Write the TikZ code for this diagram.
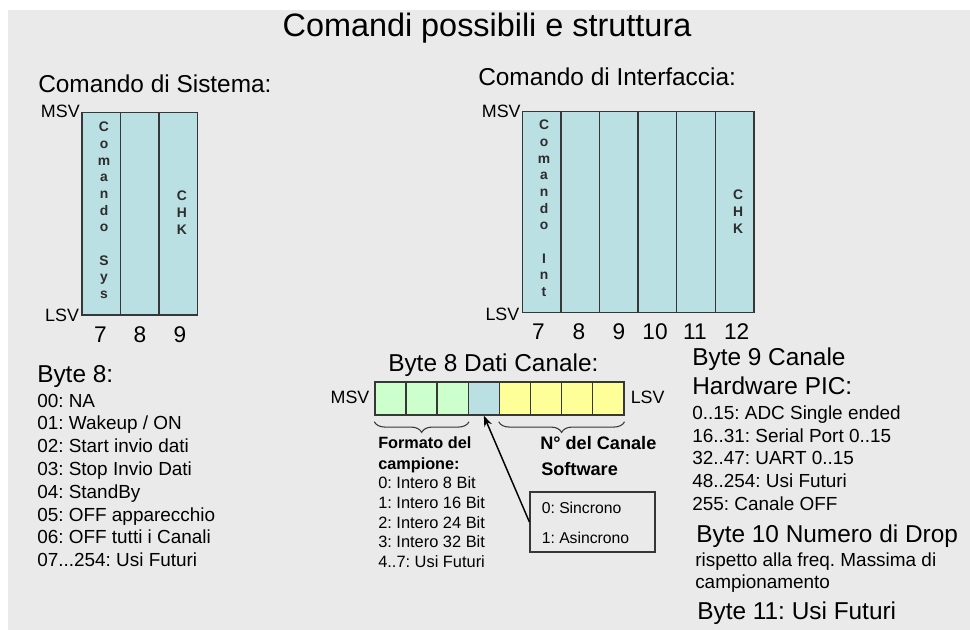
\documentclass[tikz,border=0pt]{standalone}
\usepackage{fontspec}
\setmainfont{Liberation Sans}
\usetikzlibrary{decorations.pathreplacing,arrows.meta}
\frenchspacing

\definecolor{bgpanel}{RGB}{234,234,234}
\definecolor{colcell}{RGB}{187,224,227}
\definecolor{bitgreen}{RGB}{204,255,204}
\definecolor{bityellow}{RGB}{255,255,153}
\definecolor{edgegray}{RGB}{55,55,55}

\tikzset{
  txt/.style={anchor=base west, inner sep=0pt, text=black},
  heading/.style={txt, font=\fontsize{18.3}{22}\selectfont},
  item/.style={txt, font=\fontsize{14.2}{17}\selectfont},
  smallitem/.style={txt, font=\fontsize{12.3}{15}\selectfont},
  boldlbl/.style={txt, font=\fontsize{12.2}{15}\selectfont\bfseries},
  sidelbl/.style={inner sep=0pt, font=\fontsize{13.4}{16}\selectfont},
  colnum/.style={anchor=base, inner sep=0pt, font=\fontsize{17}{20}\selectfont},
  colbox/.style={draw=edgegray, fill=colcell, line width=1.1pt, inner sep=0pt},
  bitcell/.style={draw=edgegray, line width=1.1pt, inner sep=0pt,
                  minimum width=23.3pt, minimum height=24.75pt},
  vletters/.style={anchor=north, inner sep=0pt, align=center, text=edgegray!80!black,
                   font=\fontsize{10.4}{12.5}\selectfont\bfseries},
  bracket/.style={decorate, draw=edgegray, line width=0.8pt,
                  decoration={brace, mirror, amplitude=8pt}},
}

\begin{document}
\begin{tikzpicture}[x=0.75pt,y=-0.75pt]
\useasboundingbox (0,0) rectangle (970,630);
\fill[bgpanel] (8,10) rectangle (970,630);

% title
\node[anchor=base, inner sep=0pt, font=\fontsize{24.3}{29}\selectfont] (title) at (487,37)
  {Comandi possibili e struttura};

% ---------- system command frame ----------
\node[heading] (syshead) at (38,93) {Comando di Sistema:};
\foreach \i in {0,1,2}
  \node[colbox, minimum width=28.875pt, minimum height=151.7pt] (sys\i)
    at ({82+38.5*(\i+0.5)},213.85) {};
\node[sidelbl, anchor=base east] (sysmsv) at ([xshift=-1pt,yshift=-4pt]sys0.north west) {MSV};
\node[sidelbl, anchor=base east] (syslsv) at ([xshift=-1.5pt,yshift=-4.5pt]sys0.south west) {LSV};
\node[vletters] (syscmd) at (104,122) {C\\o\\m\\a\\n\\d\\o\\[12.5pt]S\\y\\s};
\node[vletters] (syschk) at (182,191) {C\\H\\K};
\node[colnum] (sn7) at (100.5,343) {7};
\node[colnum] (sn8) at (140,343) {8};
\node[colnum] (sn9) at (180,343) {9};

% ---------- interface command frame ----------
\node[heading] (ifhead) at (478,86) {Comando di Interfaccia:};
\foreach \i in {0,1,2,3,4,5}
  \node[colbox, minimum width=28.95pt, minimum height=150.75pt] (ifc\i)
    at ({522.3+38.6*(\i+0.5)},212.2) {};
\node[sidelbl, anchor=base east] (ifmsv) at ([xshift=-0.5pt,yshift=-4.6pt]ifc0.north west) {MSV};
\node[sidelbl, anchor=base east] (iflsv) at ([xshift=-1.5pt,yshift=-5.4pt]ifc0.south west) {LSV};
\node[vletters] (ifcmd) at (544,120) {C\\o\\m\\a\\n\\d\\o\\[12.5pt]I\\n\\t};
\node[vletters] (ifchk) at (738,190) {C\\H\\K};
\node[colnum] (in7) at (538.3,340) {7};
\node[colnum] (in8) at (579,340) {8};
\node[colnum] (in9) at (619,340) {9};
\node[colnum] (in10) at (655,340) {10};
\node[colnum] (in11) at (695,340) {11};
\node[colnum] (in12) at (736.7,340) {12};

% ---------- byte 8 of the system command ----------
\node[heading] (b8head) at (37,383) {Byte 8:};
\node[item] (b8l0) at (37,407.0) {00: NA};
\node[item] (b8l1) at (37,429.8) {01: Wakeup / ON};
\node[item] (b8l2) at (37,452.6) {02: Start invio dati};
\node[item] (b8l3) at (37,475.4) {03: Stop Invio Dati};
\node[item] (b8l4) at (37,498.2) {04: StandBy};
\node[item] (b8l5) at (37,521.0) {05: OFF apparecchio};
\node[item] (b8l6) at (37,543.8) {06: OFF tutti i Canali};
\node[item] (b8l7) at (37,566.6) {07...254: Usi Futuri};

% ---------- byte 8 channel data ----------
\node[heading] (dchead) at (388,372) {Byte 8 Dati Canale:};
\foreach \i/\c in {0/bitgreen,1/bitgreen,2/bitgreen,3/colcell,
                   4/bityellow,5/bityellow,6/bityellow,7/bityellow}
  \node[bitcell, fill=\c] (bit\i) at ({375+31.1*(\i+0.5)},398.5) {};
\node[sidelbl, anchor=base east] (bitmsv) at ([xshift=-3.5pt,yshift=-4pt]bit0.west) {MSV};
\node[sidelbl, anchor=base west] (bitlsv) at ([xshift=4.5pt,yshift=-4pt]bit7.east) {LSV};

\draw[bracket] ([yshift=-4.5pt]bit0.south west) -- ([yshift=-4.5pt]bit2.south east);
\draw[bracket] ([yshift=-4.5pt]bit4.south west) -- ([yshift=-4.5pt]bit7.south east);

\node[boldlbl] (fmt1) at (378,448.3) {Formato del};
\node[boldlbl] (fmt2) at (378,469.5) {campione:};
\node[smallitem] (fmtl0) at (378,488.5) {0: Intero 8 Bit};
\node[smallitem] (fmtl1) at (378,508.3) {1: Intero 16 Bit};
\node[smallitem] (fmtl2) at (378,528.1) {2: Intero 24 Bit};
\node[smallitem] (fmtl3) at (378,547.9) {3: Intero 32 Bit};
\node[smallitem] (fmtl4) at (378,567.7) {4..7: Usi Futuri};

\node[txt, font=\fontsize{13.6}{16}\selectfont\bfseries] (sw1) at (540,450) {N° del Canale};
\node[txt, font=\fontsize{13.6}{16}\selectfont\bfseries] (sw2) at (541,475) {Software};

\node[draw=edgegray, line width=0.9pt, minimum width=93.75pt, minimum height=45pt,
      inner sep=0pt] (sel) at (592.5,522) {};
\node[smallitem, font=\fontsize{11.8}{14}\selectfont] (sel0) at (541.5,513.3) {0: Sincrono};
\node[smallitem, font=\fontsize{11.8}{14}\selectfont] (sel1) at (541.5,543.3) {1: Asincrono};
\draw[line width=1.1pt, -{Stealth[length=8pt,width=6pt]}] (sel.west) -- (bit3.south);

% ---------- bytes 9, 10, 11 ----------
\node[heading] (b9a) at (692,366) {Byte 9 Canale};
\node[heading] (b9b) at (692,395) {Hardware PIC:};
\node[item] (b9l0) at (692,419.3) {0..15: ADC Single ended};
\node[item] (b9l1) at (692,442.0) {16..31: Serial Port 0..15};
\node[item] (b9l2) at (692,464.7) {32..47: UART 0..15};
\node[item] (b9l3) at (692,487.4) {48..254: Usi Futuri};
\node[item] (b9l4) at (692,510.1) {255: Canale OFF};

\node[heading] (b10) at (696,542.7) {Byte 10 Numero di Drop};
\node[item] (b10a) at (695,566.7) {rispetto alla freq. Massima di};
\node[item] (b10b) at (695,588.5) {campionamento};
\node[heading] (b11) at (697,619) {Byte 11: Usi Futuri};
\end{tikzpicture}
\end{document}
